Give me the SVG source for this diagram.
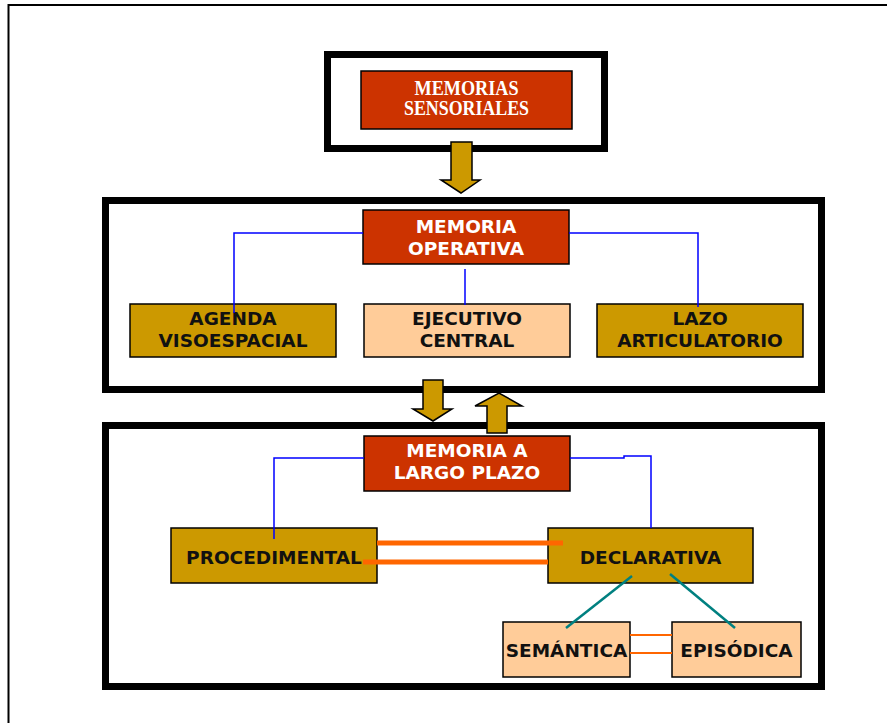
<svg xmlns="http://www.w3.org/2000/svg" width="887" height="723" viewBox="0 0 887 723">
<style>
.frame{fill:none;stroke:#000;stroke-width:7}
.red{fill:#CC3300;stroke:#000;stroke-width:1.5}
.gold{fill:#CC9900;stroke:#000;stroke-width:1.5}
.peach{fill:#FFCC99;stroke:#000;stroke-width:1.5}
.arrow{fill:#CC9900;stroke:#000;stroke-width:1.5;stroke-linejoin:miter}
.t{font-family:"DejaVu Sans",Verdana,sans-serif;font-weight:bold;font-size:18.5px;text-anchor:middle;fill:#111}
.tw{fill:#fff}
.ts{font-family:"Liberation Serif","Times New Roman",serif;font-weight:bold;font-size:20px;text-anchor:middle;fill:#fff}
.blue{fill:none;stroke:#0000FF;stroke-width:1.5}
.orange{fill:none;stroke:#FF6600;stroke-width:5}
.orange2{fill:none;stroke:#FF6600;stroke-width:2}
.teal{fill:none;stroke:#008080;stroke-width:2.5}
</style>
<rect width="887" height="723" fill="#fff"/>
<g id="page-border">
<line x1="8.5" y1="5" x2="887" y2="5" stroke="#000" stroke-width="2"/>
<line x1="8.5" y1="4" x2="8.5" y2="723" stroke="#000" stroke-width="2"/>
</g>
<g id="frames">
<rect class="frame" x="327.5" y="54.5" width="277" height="94"/>
<rect class="frame" x="105.5" y="200.5" width="716" height="189"/>
<rect class="frame" x="105.5" y="425.5" width="716" height="261"/>
</g>
<g id="memorias-sensoriales">
<rect class="red" x="361" y="71" width="211" height="58"/>
<text class="ts" x="466.5" y="95" textLength="104" lengthAdjust="spacingAndGlyphs">MEMORIAS</text>
<text class="ts" x="466.5" y="115" textLength="125" lengthAdjust="spacingAndGlyphs">SENSORIALES</text>
</g>
<g id="memoria-operativa">
<rect class="red" x="363" y="210" width="206" height="54"/>
<text class="t tw" x="466" y="233">MEMORIA</text>
<text class="t tw" x="466" y="255">OPERATIVA</text>
</g>
<g id="agenda-visoespacial">
<rect class="gold" x="130" y="304" width="206" height="53"/>
<text class="t" x="233" y="325">AGENDA</text>
<text class="t" x="233" y="347">VISOESPACIAL</text>
</g>
<g id="ejecutivo-central">
<rect class="peach" x="364" y="304" width="206" height="53"/>
<text class="t" x="467" y="325">EJECUTIVO</text>
<text class="t" x="467" y="347">CENTRAL</text>
</g>
<g id="lazo-articulatorio">
<rect class="gold" x="597" y="304" width="206" height="53"/>
<text class="t" x="700" y="325">LAZO</text>
<text class="t" x="700" y="347">ARTICULATORIO</text>
</g>
<g id="memoria-largo-plazo">
<rect class="red" x="364" y="436" width="206" height="55"/>
<text class="t tw" x="467" y="457">MEMORIA A</text>
<text class="t tw" x="467" y="479">LARGO PLAZO</text>
</g>
<g id="procedimental">
<rect class="gold" x="171" y="528" width="206" height="55"/>
<text class="t" x="274" y="564">PROCEDIMENTAL</text>
</g>
<g id="declarativa">
<rect class="gold" x="548" y="528" width="205" height="55"/>
<text class="t" x="650.5" y="564">DECLARATIVA</text>
</g>
<g id="semantica">
<rect class="peach" x="503" y="622" width="127" height="55"/>
<text class="t" x="566.5" y="657">SEMÁNTICA</text>
</g>
<g id="episodica">
<rect class="peach" x="672" y="622" width="129" height="55"/>
<text class="t" x="736.5" y="657">EPISÓDICA</text>
</g>
<g id="connectors">
<path class="blue" d="M363 233 H234 V313"/>
<path class="blue" d="M569 233 H698 V307"/>
<path class="blue" d="M465 269 V305"/>
<path class="blue" d="M364 458 H274 V539"/>
<path class="blue" d="M570 458 H624 V456 H651 V528"/>
<path class="orange" d="M377 543 H563"/>
<path class="orange" d="M363 562 H548"/>
<path class="orange2" d="M630 635 H672 M630 653 H672"/>
<path class="teal" d="M632 576 L566 628"/>
<path class="teal" d="M670 574 L735 628"/>
<path class="arrow" d="M451 142 H472 V180 H480 L461 193 L441 180 H451 Z"/>
<path class="arrow" d="M423 380 H443 V409 H452 L433 421 L413 409 H423 Z"/>
<path class="arrow" d="M487 433 H507 V406 H522 L499 393 L475 406 H487 Z"/>
</g>
</svg>
